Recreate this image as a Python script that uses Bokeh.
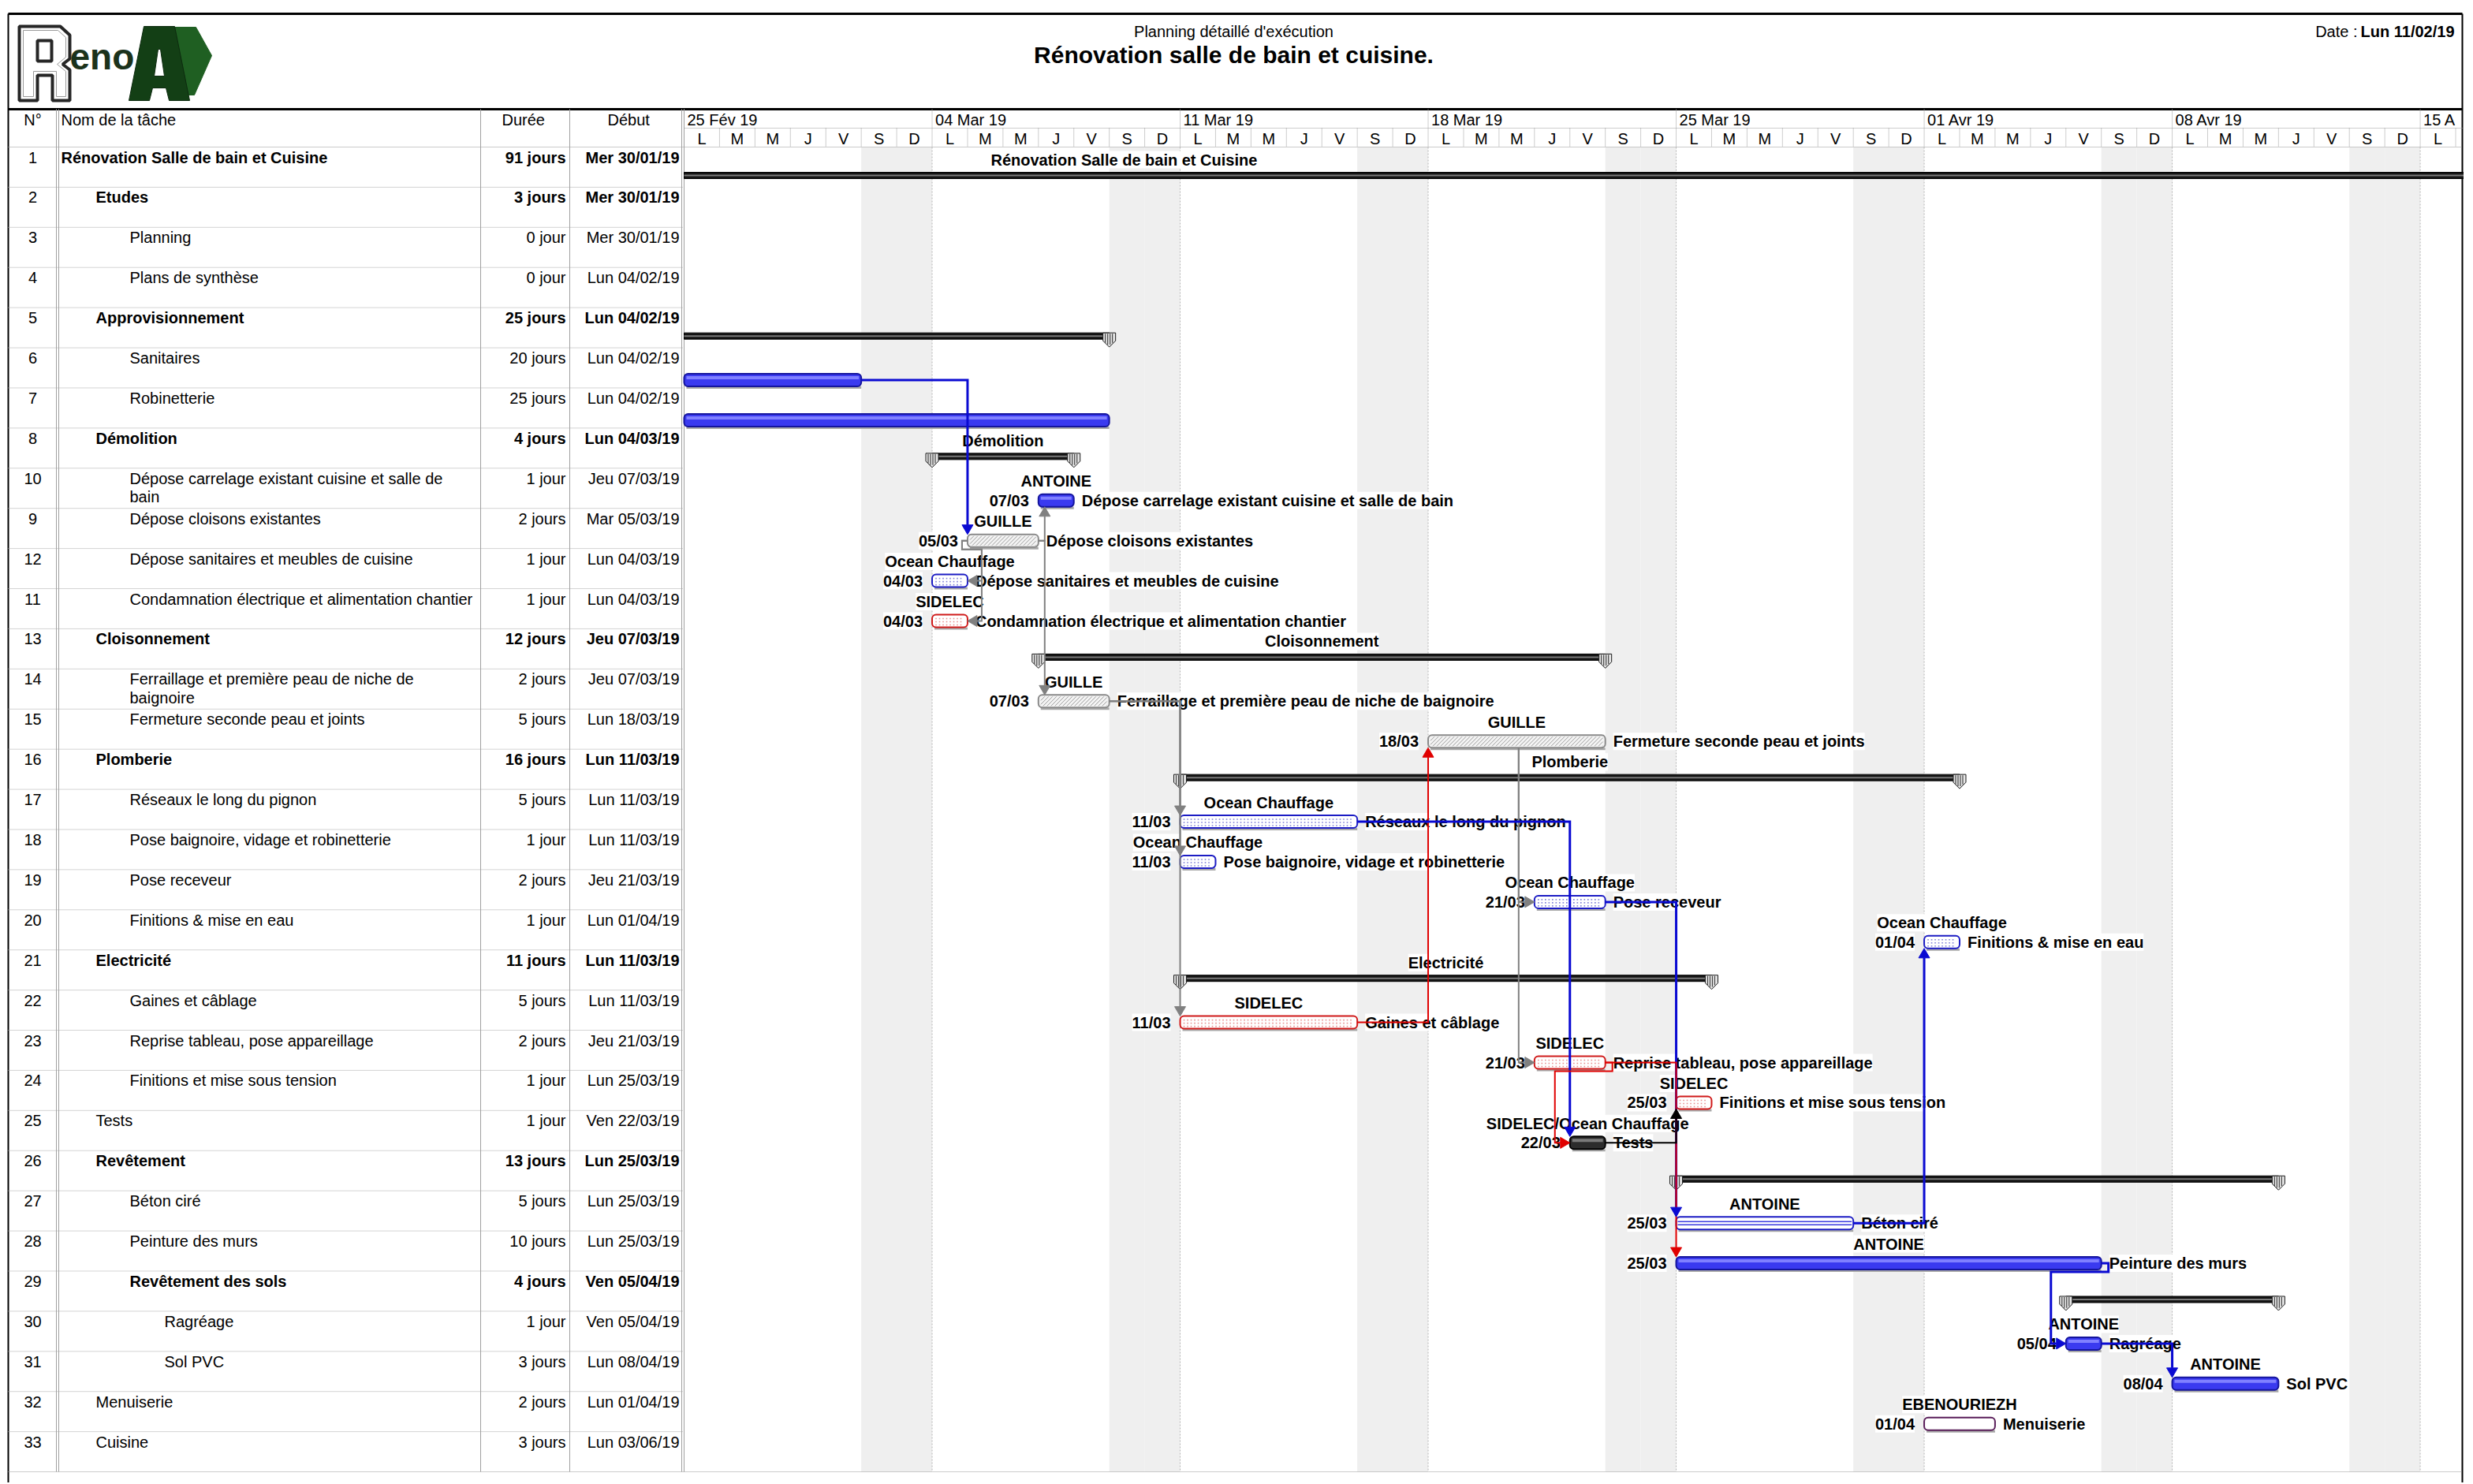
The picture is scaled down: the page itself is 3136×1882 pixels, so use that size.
import numpy as np
import pandas as pd
from bokeh.plotting import figure
from bokeh.models import Range1d, ColumnDataSource
from bokeh.embed import file_html
from bokeh.resources import INLINE
from bokeh.core.properties import value

# ------------------------------------------------------------------ data
task_ids = [1, 2, 3, 4, 5, 6, 7, 8, 10, 9, 12, 11, 13, 14, 15, 16, 17, 18, 19, 20,
            21, 22, 23, 24, 25, 26, 27, 28, 29, 30, 31, 32, 33]
task_names = [
    "Rénovation Salle de bain et Cuisine", "Etudes", "Planning", "Plans de synthèse",
    "Approvisionnement", "Sanitaires", "Robinetterie", "Démolition",
    "Dépose carrelage existant cuisine et salle de\nbain", "Dépose cloisons existantes",
    "Dépose sanitaires et meubles de cuisine",
    "Condamnation électrique et alimentation chantier",
    "Cloisonnement", "Ferraillage et première peau de niche de\nbaignoire",
    "Fermeture seconde peau et joints", "Plomberie", "Réseaux le long du pignon",
    "Pose baignoire, vidage et robinetterie", "Pose receveur", "Finitions & mise en eau",
    "Electricité", "Gaines et câblage", "Reprise tableau, pose appareillage",
    "Finitions et mise sous tension", "Tests", "Revêtement", "Béton ciré",
    "Peinture des murs", "Revêtement des sols", "Ragréage", "Sol PVC", "Menuiserie", "Cuisine"]
task_levels = [0, 1, 2, 2, 1, 2, 2, 1, 2, 2, 2, 2, 1, 2, 2, 1, 2, 2, 2, 2,
               1, 2, 2, 2, 1, 1, 2, 2, 2, 3, 3, 1, 1]
task_durations = ["91 jours", "3 jours", "0 jour", "0 jour", "25 jours", "20 jours", "25 jours",
                  "4 jours", "1 jour", "2 jours", "1 jour", "1 jour", "12 jours", "2 jours",
                  "5 jours", "16 jours", "5 jours", "1 jour", "2 jours", "1 jour", "11 jours",
                  "5 jours", "2 jours", "1 jour", "1 jour", "13 jours", "5 jours", "10 jours",
                  "4 jours", "1 jour", "3 jours", "2 jours", "3 jours"]
task_starts = ["Mer 30/01/19", "Mer 30/01/19", "Mer 30/01/19", "Lun 04/02/19", "Lun 04/02/19",
               "Lun 04/02/19", "Lun 04/02/19", "Lun 04/03/19", "Jeu 07/03/19", "Mar 05/03/19",
               "Lun 04/03/19", "Lun 04/03/19", "Jeu 07/03/19", "Jeu 07/03/19", "Lun 18/03/19",
               "Lun 11/03/19", "Lun 11/03/19", "Lun 11/03/19", "Jeu 21/03/19", "Lun 01/04/19",
               "Lun 11/03/19", "Lun 11/03/19", "Jeu 21/03/19", "Lun 25/03/19", "Ven 22/03/19",
               "Lun 25/03/19", "Lun 25/03/19", "Lun 25/03/19", "Ven 05/04/19", "Ven 05/04/19",
               "Lun 08/04/19", "Lun 01/04/19", "Lun 03/06/19"]
task_summary = [True, True, False, False, True, False, False, True, False, False, False, False,
                True, False, False, True, False, False, False, False, True, False, False, False,
                False, True, False, False, True, False, False, False, False]

# task bars (row index in the table, start, finish inclusive, style, resource, label)
bar_rows = [5, 6, 8, 9, 10, 11, 13, 14, 16, 17, 18, 19, 21, 22, 23, 24, 26, 27, 29, 30, 31]
bar_start = ["2019-02-04", "2019-02-04", "2019-03-07", "2019-03-05", "2019-03-04", "2019-03-04",
             "2019-03-07", "2019-03-18", "2019-03-11", "2019-03-11", "2019-03-21", "2019-04-01",
             "2019-03-11", "2019-03-21", "2019-03-25", "2019-03-22", "2019-03-25", "2019-03-25",
             "2019-04-05", "2019-04-08", "2019-04-01"]
bar_finish = ["2019-03-01", "2019-03-08", "2019-03-07", "2019-03-06", "2019-03-04", "2019-03-04",
              "2019-03-08", "2019-03-22", "2019-03-15", "2019-03-11", "2019-03-22", "2019-04-01",
              "2019-03-15", "2019-03-22", "2019-03-25", "2019-03-22", "2019-03-29", "2019-04-05",
              "2019-04-05", "2019-04-10", "2019-04-02"]
bar_style = ["blue", "blue", "blue", "gray", "blue_o", "red_o", "gray", "gray", "blue_o", "blue_o",
             "blue_o", "blue_o", "red_o", "red_o", "red_o", "black", "blue_s", "blue", "blue", "blue",
             "purple_o"]
bar_resource = ["", "", "ANTOINE", "GUILLE", "Ocean Chauffage", "SIDELEC", "GUILLE", "GUILLE",
                "Ocean Chauffage", "Ocean Chauffage", "Ocean Chauffage", "Ocean Chauffage",
                "SIDELEC", "SIDELEC", "SIDELEC", "SIDELEC/Ocean Chauffage", "ANTOINE", "ANTOINE",
                "ANTOINE", "ANTOINE", "EBENOURIEZH"]
bar_label = ["", "", "Dépose carrelage existant cuisine et salle de bain",
             "Dépose cloisons existantes", "Dépose sanitaires et meubles de cuisine",
             "Condamnation électrique et alimentation chantier",
             "Ferraillage et première peau de niche de baignoire",
             "Fermeture seconde peau et joints", "Réseaux le long du pignon",
             "Pose baignoire, vidage et robinetterie", "Pose receveur", "Finitions & mise en eau",
             "Gaines et câblage", "Reprise tableau, pose appareillage",
             "Finitions et mise sous tension", "Tests", "Béton ciré", "Peinture des murs",
             "Ragréage", "Sol PVC", "Menuiserie"]

# summary bars
sum_rows = [0, 4, 7, 12, 15, 20, 25, 28]
sum_start = ["2019-01-30", "2019-02-04", "2019-03-04", "2019-03-07", "2019-03-11", "2019-03-11",
             "2019-03-25", "2019-04-05"]
sum_finish = ["2019-06-07", "2019-03-08", "2019-03-07", "2019-03-22", "2019-04-01", "2019-03-25",
              "2019-04-10", "2019-04-10"]
sum_label = ["Rénovation Salle de bain et Cuisine", "", "Démolition", "Cloisonnement",
             "Plomberie", "Electricité", "", ""]
sum_label_at = ["2019-03-09 10:00", None, None, None, None, None, None, None]

# dependency links: (predecessor row, successor row, drawing kind)
links = [(5, 9, "FS"), (9, 8, "FS"), (9, 13, "FS"), (9, 10, "SF"), (9, 11, "SF"),
         (13, 16, "FS"), (13, 17, "FS"), (13, 21, "FS"), (21, 14, "FS"),
         (14, 18, "under"), (14, 22, "under"), (16, 24, "FS"), (18, 26, "FS"),
         (22, 27, "FS"), (22, 24, "back"), (24, 23, "FS"), (26, 19, "FS"),
         (27, 29, "back"), (29, 30, "FS")]

VIEW_START = "2019-02-25"
week_labels = ["25 Fév 19", "04 Mar 19", "11 Mar 19", "18 Mar 19", "25 Mar 19", "01 Avr 19",
               "08 Avr 19", "15 A"]
day_letters = ["L", "M", "M", "J", "V", "S", "D"]
N_DAYS = 50

# ------------------------------------------------------------------ geometry
FONT = value("Liberation Sans")
M = 0
W, H = 3124, 1880
X_DAY0 = 867.0     # page x of the first day column
PX_DAY = 44.93
Y_ROW0 = 186.0     # page y of the first table row
PX_ROW = 50.91
X_RIGHT = 3122.0


def dpx(v):
    return v / PX_DAY


def rpx(v):
    return v / PX_ROW


D0 = pd.Timestamp(VIEW_START)


def day(s):
    return (pd.Timestamp(s) - D0) / pd.Timedelta(days=1)


VIEW_END = (X_RIGHT - X_DAY0) / PX_DAY

p = figure(width=W, height=H,
           x_range=Range1d((M - X_DAY0) / PX_DAY, (M + W - X_DAY0) / PX_DAY),
           y_range=Range1d((M + H - Y_ROW0) / PX_ROW, (M - Y_ROW0) / PX_ROW),
           output_backend="svg", toolbar_location=None, min_border=0,
           x_axis_location=None, y_axis_location=None, outline_line_color=None,
           background_fill_color="white", border_fill_color="white")
p.extra_x_ranges = {"px": Range1d(M, M + W)}
p.extra_y_ranges = {"px": Range1d(M + H, M)}
p.grid.visible = False


def add_text(xs, ys, texts, size=20, bold=False, align="left", color="black",
             px_x=False, px_y=False, bg=None, baseline="middle"):
    kw = dict(text_font=FONT, text_font_size=f"{size}px",
              text_font_style="bold" if bold else "normal",
              text_align=align, text_baseline=baseline, text_color=color)
    if px_x:
        kw["x_range_name"] = "px"
    if px_y:
        kw["y_range_name"] = "px"
    if bg:
        kw["background_fill_color"] = bg
    src = ColumnDataSource(dict(x=list(xs), y=list(ys), text=list(texts)))
    p.text(x="x", y="y", text="text", source=src, **kw)


def px_lines(xs, ys, color="black", width=1, dash="solid"):
    p.multi_line(xs=xs, ys=ys, line_color=color, line_width=width, line_dash=dash,
                 x_range_name="px", y_range_name="px")


N_ROWS = len(task_ids)
days = np.arange(0, N_DAYS + 1)

# ------------------------------------------------------------------ background of timeline
wk = days[(days % 7) >= 5]
p.quad(left=wk, right=wk + 1, top=0, bottom=N_ROWS, fill_color="#efefef", line_color=None)
wstarts = np.arange(7, N_DAYS + 1, 7)
p.multi_line(xs=[[w, w] for w in wstarts], ys=[[0, N_ROWS] for _ in wstarts],
             line_color="#b4b4b4", line_width=1, line_dash="2 2")

# ------------------------------------------------------------------ header band
px_lines([[10, X_RIGHT]], [[17, 17]], width=3)
px_lines([[10, X_RIGHT]], [[138, 138]], width=3)
px_lines([[10, 10], [X_RIGHT, X_RIGHT]], [[17, M + H], [17, M + H]], width=2)

# logo
p.patch([24, 76, 88, 88, 79, 88, 88, 66, 66, 47, 47, 24],
        [33, 33, 44, 74, 81, 88, 127, 127, 95, 95, 127, 127],
        fill_color="white", line_color="#262626", line_width=4,
        x_range_name="px", y_range_name="px")
p.patch([29, 73, 83, 83, 72, 83, 83, 71, 71, 42, 42, 29],
        [38, 38, 47, 72, 81, 90, 122, 122, 90, 90, 122, 122],
        fill_color=None, line_color="#9a9a9a", line_width=1,
        x_range_name="px", y_range_name="px")
p.patch([47, 65, 65, 47], [51, 51, 77, 77], fill_color="white", line_color="#262626",
        line_width=4, x_range_name="px", y_range_name="px")
p.patch([214, 248, 268, 246, 214], [34, 34, 70, 120, 120], fill_color="#1f5f22",
        line_color="#1f5f22", x_range_name="px", y_range_name="px")
p.patch([163, 182, 221, 240, 214, 210, 193, 189], [127, 33, 33, 127, 127, 111, 111, 127],
        fill_color="#133f15", line_color="#0c2a0e", line_width=1,
        x_range_name="px", y_range_name="px")
p.patch([195, 208, 203, 200], [96, 96, 62, 62], fill_color="white", line_color="#0c2a0e",
        x_range_name="px", y_range_name="px")
add_text([88], [71], ["eno"], size=46, bold=True, color="#1b321b", px_x=True, px_y=True,
         baseline="alphabetic")

add_text([1564], [39], ["Planning détaillé d'exécution"], size=20, align="center",
         px_x=True, px_y=True)
add_text([1564], [69], ["Rénovation salle de bain et cuisine."], size=30, bold=True,
         align="center", px_x=True, px_y=True)
add_text([3112], [39], ["Lun 11/02/19"], size=20, bold=True, align="right", px_x=True, px_y=True)
add_text([2989], [39], ["Date :"], size=20, align="right", px_x=True, px_y=True)

# ------------------------------------------------------------------ table
add_text([41], [151], ["N°"], px_x=True, px_y=True, align="center")
add_text([77, 636, 770], [151] * 3, ["Nom de la tâche", "Durée", "Début"],
         px_x=True, px_y=True, align="left")
row_tops = Y_ROW0 + np.arange(N_ROWS + 1) * PX_ROW
px_lines([[10, 866] for _ in row_tops[1:-1]], [[y, y] for y in row_tops[1:-1]],
         color="#a8a8a8", dash="1 1")
px_lines([[10, X_RIGHT], [10, X_RIGHT]], [[row_tops[0], row_tops[0]], [row_tops[-1], row_tops[-1]]],
         color="#999999", dash="1 1")
px_lines([[71, 71], [74, 74], [609, 609], [722, 722], [864, 864], [867, 867]],
         [[138, row_tops[-1]]] * 6,
         color="#a0a0a0", width=1)

indent = {0: 77, 1: 121, 2: 164, 3: 208}
for bold_flag in (False, True):
    idx = [i for i in range(N_ROWS) if task_summary[i] == bold_flag]
    add_text([41] * len(idx), [i + rpx(13) for i in idx], [str(task_ids[i]) for i in idx],
             align="center", px_x=True)
    nx, ny, nt = [], [], []
    for i in idx:
        for k, line in enumerate(task_names[i].split("\n")):
            nx.append(indent[task_levels[i]])
            ny.append(i + rpx(13 + 23.5 * k))
            nt.append(line)
    add_text(nx, ny, nt, bold=bold_flag, px_x=True)
    add_text([717] * len(idx), [i + rpx(13) for i in idx], [task_durations[i] for i in idx],
             bold=bold_flag, align="right", px_x=True)
    add_text([861] * len(idx), [i + rpx(13) for i in idx], [task_starts[i] for i in idx],
             bold=bold_flag, align="right", px_x=True)

# ------------------------------------------------------------------ timescale header
px_lines([[X_DAY0, X_RIGHT]], [[162, 162]], color="#9a9a9a", dash="1 1")
p.multi_line(xs=[[d, d] for d in np.arange(0, N_DAYS + 1, 7)],
             ys=[[rpx(138 - Y_ROW0), rpx(162 - Y_ROW0)] for _ in np.arange(0, N_DAYS + 1, 7)],
             line_color="#9a9a9a", line_dash="1 1")
p.multi_line(xs=[[d, d] for d in days], ys=[[rpx(162 - Y_ROW0), 0] for _ in days],
             line_color="#9a9a9a", line_dash="1 1")
add_text([7 * k + dpx(4) for k in range(len(week_labels))],
         [rpx(151 - Y_ROW0)] * len(week_labels), week_labels)
ld = days[:-1]
add_text(ld + 0.5, [rpx(175 - Y_ROW0)] * len(ld), [day_letters[d % 7] for d in ld],
         align="center")

# ------------------------------------------------------------------ gantt geometry
bs = np.array([day(s) for s in bar_start])
be = np.array([day(f) + 1 for f in bar_finish])
bar_of = {r: (s, e, st) for r, s, e, st in zip(bar_rows, bs, be, bar_style)}


def b_top(r):
    return r + rpx(33)


def b_bot(r):
    return r + rpx(49)


def b_mid(r):
    return r + rpx(41)


# labels (with white background)
lab_idx = [k for k in range(len(bar_rows)) if bar_label[k]]
add_text([bs[k] - dpx(12) for k in lab_idx], [b_mid(bar_rows[k]) for k in lab_idx],
         [pd.Timestamp(bar_start[k]).strftime("%d/%m") for k in lab_idx],
         bold=True, align="right", bg="white")
add_text([(bs[k] + be[k]) / 2 for k in lab_idx], [bar_rows[k] + rpx(16.5) for k in lab_idx],
         [bar_resource[k] for k in lab_idx], bold=True, align="center", bg="white")
add_text([be[k] + dpx(10) for k in lab_idx], [b_mid(bar_rows[k]) for k in lab_idx],
         [bar_label[k] for k in lab_idx], bold=True, bg="white")

ss = np.array([day(s) for s in sum_start])
se = np.array([day(f) + 1 for f in sum_finish])
sl = [k for k in range(len(sum_rows)) if sum_label[k]]
sx = [day(sum_label_at[k]) if sum_label_at[k] else (ss[k] + se[k]) / 2 for k in sl]
add_text(sx, [sum_rows[k] + rpx(16) for k in sl], [sum_label[k] for k in sl], bold=True,
         align="center", bg="white")

# ------------------------------------------------------------------ task bars
styles = {
    "blue": dict(fill_color="#3a3af0", line_color="#15159c"),
    "black": dict(fill_color="#2c2c2c", line_color="#000000"),
    "gray": dict(fill_color="#f4f4f4", line_color="#8a8a8a"),
    "blue_o": dict(fill_color="white", line_color="#1c1cc4"),
    "red_o": dict(fill_color="white", line_color="#d01a1a"),
    "blue_s": dict(fill_color="white", line_color="#1c1cc4"),
    "purple_o": dict(fill_color="white", line_color="#5a1e5a"),
}
link_color = {"blue": "#0a0ad2", "blue_o": "#0a0ad2", "blue_s": "#0a0ad2", "gray": "#808080",
              "red_o": "#e00000", "black": "#000000", "purple_o": "#5a1e5a"}

vis_l = np.clip(bs, 0, None)
rows_arr = np.array(bar_rows)
# shadow under bars
p.quad(left=vis_l + dpx(3), right=be, top=b_bot(rows_arr), bottom=b_bot(rows_arr) + rpx(3),
       fill_color="#a8a8a8", line_color=None)
for st, kw in styles.items():
    sel = [k for k in range(len(bar_rows)) if bar_style[k] == st]
    if not sel:
        continue
    p.quad(left=vis_l[sel], right=be[sel], top=b_top(rows_arr[sel]),
           bottom=b_bot(rows_arr[sel]), line_width=2, border_radius=5, **kw)
    if st in ("blue", "black"):
        hl = "#8080ff" if st == "blue" else "#7a7a7a"
        p.quad(left=vis_l[sel] + dpx(3), right=be[sel] - dpx(3),
               top=b_top(rows_arr[sel]) + rpx(3), bottom=b_top(rows_arr[sel]) + rpx(7),
               fill_color=hl, line_color=None)

# fill patterns drawn by hand (diagonal hatch, dots, stripes)
hx, hy = [], []
dot_x, dot_y, dot_c = [], [], []
sx_, sy_ = [], []
for k in range(len(bar_rows)):
    st = bar_style[k]
    l, r = vis_l[k], be[k]
    t = b_top(bar_rows[k])
    wpx = (r - l) * PX_DAY - 6
    if st == "gray":
        h = 12.0
        c = -h
        while c < wpx:
            s0 = max(0.0, -c / h)
            s1 = min(1.0, (wpx - c) / h)
            if s1 > s0:
                hx.append([l + dpx(3 + c + s0 * h), l + dpx(3 + c + s1 * h)])
                hy.append([t + rpx(2 + h - s0 * h), t + rpx(2 + h - s1 * h)])
            c += 5
    elif st in ("blue_o", "red_o"):
        col = "#7f7fd8" if st == "blue_o" else "#e89090"
        for xx in np.arange(5, wpx, 4.5):
            for yy in (5, 9, 13):
                dot_x.append(l + dpx(xx))
                dot_y.append(t + rpx(yy))
                dot_c.append(col)
    elif st == "blue_s":
        for yy in (6, 10):
            sx_.append([l + dpx(2), r - dpx(2)])
            sy_.append([t + rpx(yy), t + rpx(yy)])
p.multi_line(xs=hx, ys=hy, line_color="#9c9c9c", line_width=1)
p.scatter(x=dot_x, y=dot_y, marker="square", size=1.6, fill_color=dot_c, line_color=None)
p.multi_line(xs=sx_, ys=sy_, line_color="#3a3ae0", line_width=1.5)

# ------------------------------------------------------------------ summary bars
srows = np.array(sum_rows)
sl_vis = np.clip(ss, 0, None)
sr_vis = np.clip(se, None, VIEW_END + 1)
p.quad(left=sl_vis, right=sr_vis, top=srows + rpx(32), bottom=srows + rpx(40),
       fill_color="#141414", line_color="#000000", line_width=1)
p.quad(left=sl_vis, right=sr_vis, top=srows + rpx(35), bottom=srows + rpx(37),
       fill_color="#7a7a7a", line_color=None)
mk_x, mk_y, mh_x, mh_y = [], [], [], []
for k, r in enumerate(sum_rows):
    for x0 in (ss[k], se[k]):
        if 0 <= x0 <= VIEW_END:
            t = r + rpx(32)
            mk_x.append([x0 - dpx(8), x0 + dpx(8), x0 + dpx(8), x0, x0 - dpx(8)])
            mk_y.append([t, t, t + rpx(10), t + rpx(18), t + rpx(10)])
            for o in (-5, -2, 1, 4):
                mh_x.append([x0 + dpx(o), x0 + dpx(o)])
                mh_y.append([t + rpx(1), t + rpx(10 + 6 * (1 - abs(o + 0.5) / 8))])
p.patches(mk_x, mk_y, fill_color="#e6e6e6", line_color="#1a1a1a", line_width=1)
p.multi_line(xs=mh_x, ys=mh_y, line_color="#444444", line_width=1.2)

# ------------------------------------------------------------------ links
AL, HW = 12, 7
lx, ly, lc, lw = [], [], [], []
ax, ay, ac = [], [], []


def arrow(x, y, d, c):
    if d == "down":
        ax.append([x - dpx(HW), x + dpx(HW), x]); ay.append([y - rpx(AL), y - rpx(AL), y])
    elif d == "up":
        ax.append([x - dpx(HW), x + dpx(HW), x]); ay.append([y + rpx(AL), y + rpx(AL), y])
    elif d == "right":
        ax.append([x - dpx(AL), x - dpx(AL), x]); ay.append([y - rpx(HW), y + rpx(HW), y])
    else:
        ax.append([x + dpx(AL), x + dpx(AL), x]); ay.append([y - rpx(HW), y + rpx(HW), y])
    ac.append(c)


for fr, to, kind in links:
    fs, fe, fst = bar_of[fr]
    ts, te, _ = bar_of[to]
    c = link_color[fst]
    w = 3 if c == "#0a0ad2" else 2
    if kind == "FS":
        xt = max(ts, fe + dpx(8))
        y0 = b_mid(fr)
        if to > fr:
            tip = b_top(to); yb = tip - rpx(AL); d = "down"
        else:
            tip = b_bot(to); yb = tip + rpx(AL); d = "up"
        lx.append([fe, xt, xt]); ly.append([y0, y0, yb])
        arrow(xt, tip, d, c)
    elif kind == "SF":
        xh = fs - dpx(7); yh = b_bot(fr) + rpx(3); xv = fs + dpx(18); ym = b_mid(to)
        lx.append([fs, xh, xh, xv, xv, te + dpx(AL)])
        ly.append([b_mid(fr), b_mid(fr), yh, yh, ym, ym])
        arrow(te, ym, "left", c)
    elif kind == "under":
        xv = ts - dpx(20); ym = b_mid(to)
        lx.append([xv, xv, ts - dpx(AL)]); ly.append([b_bot(fr), ym, ym])
        arrow(ts, ym, "right", c)
    else:  # back
        xh = fe + dpx(9); yh = b_bot(fr) + rpx(3); xv = ts - dpx(19); ym = b_mid(to)
        lx.append([fe, xh, xh, xv, xv, ts - dpx(AL)])
        ly.append([b_mid(fr), b_mid(fr), yh, yh, ym, ym])
        arrow(ts, ym, "right", c)
    lc.append(c)
    lw.append(w)

p.multi_line(xs=lx, ys=ly, line_color=lc, line_width=lw, line_join="miter")
p.patches(ax, ay, fill_color=ac, line_color=ac, line_width=1)

open("out.html", "w").write(file_html(p, INLINE, title="Planning détaillé d'exécution"))
